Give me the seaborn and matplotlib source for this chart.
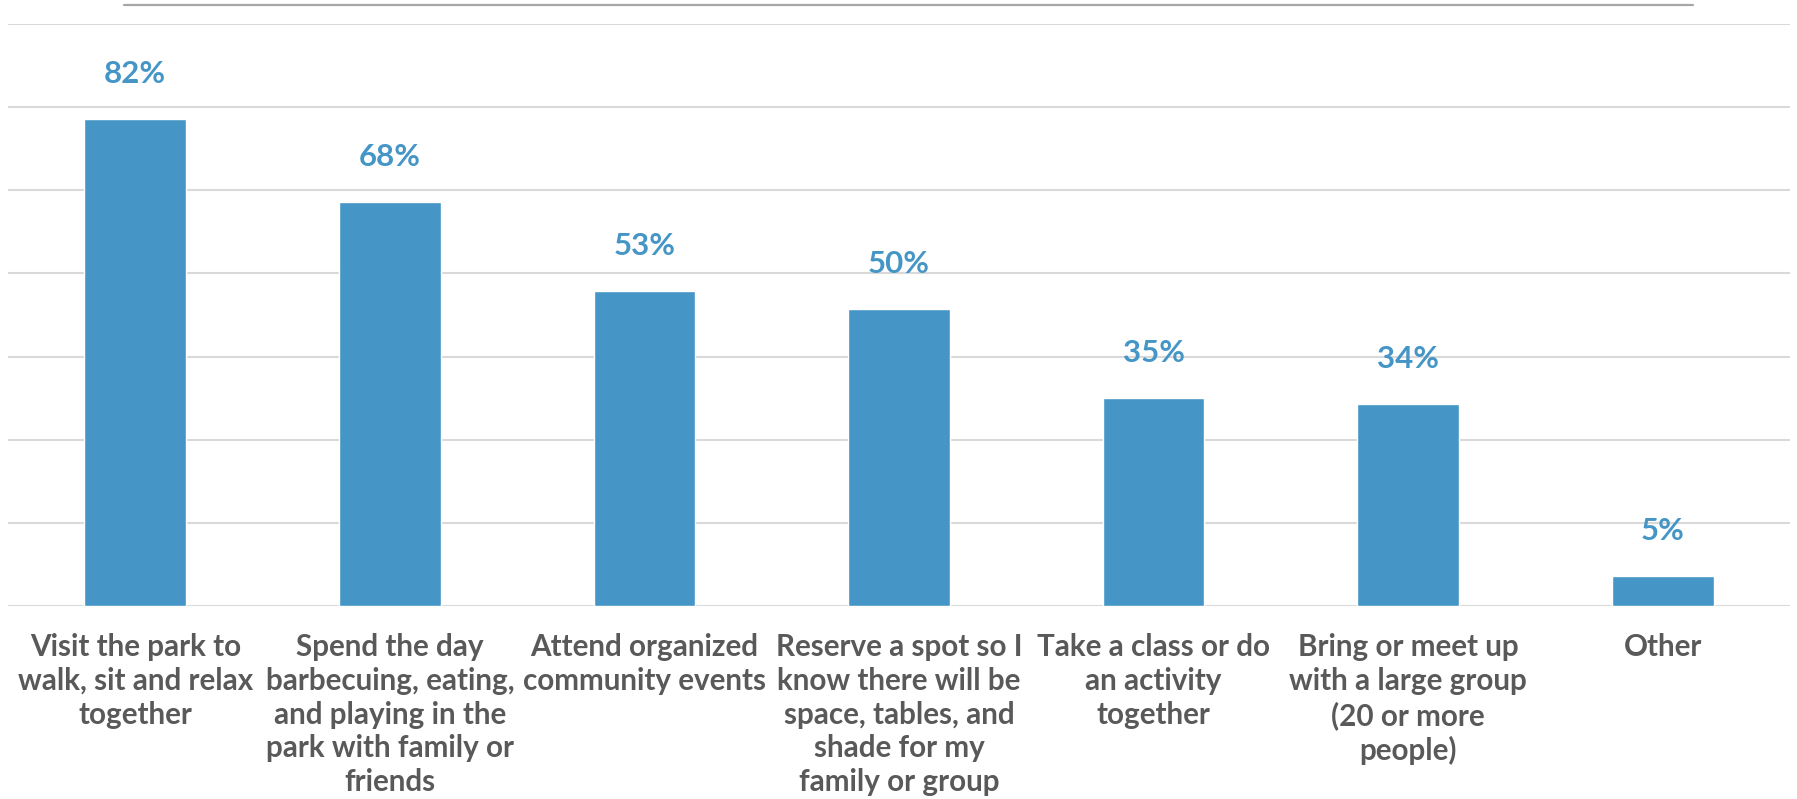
import matplotlib
matplotlib.use("Agg")
import matplotlib.pyplot as plt
import seaborn as sns
import pandas as pd
from matplotlib.lines import Line2D

categories = [
    "Visit the park to\nwalk, sit and relax\ntogether",
    "Spend the day\nbarbecuing, eating,\nand playing in the\npark with family or\nfriends",
    "Attend organized\ncommunity events",
    "Reserve a spot so I\nknow there will be\nspace, tables, and\nshade for my\nfamily or group",
    "Take a class or do\nan activity\ntogether",
    "Bring or meet up\nwith a large group\n(20 or more\npeople)",
    "Other",
]
percent = [82, 68, 53, 50, 35, 34, 5]

df = pd.DataFrame({"activity": categories, "percent": percent})

sns.set_theme(style="white")
plt.rcParams["font.family"] = ["Lato", "DejaVu Sans"]

BAR = "#4596c6"
TEXT = "#595959"

fig = plt.figure(figsize=(17.97, 7.99), dpi=100)
ax = fig.add_axes([8 / 1797, 1 - 606 / 799, 1782 / 1797, 582 / 799])

sns.barplot(data=df, x="activity", y="percent", color=BAR, width=0.4,
            saturation=1, ax=ax, zorder=3)

ax.set_ylim(0, 98)
ax.set_xlim(-0.5, len(categories) - 0.5)
ax.set_yticks(range(0, 99, 14))
ax.yaxis.grid(True, color="#d9d9d9", linewidth=1.5, zorder=0)
ax.set_axisbelow(True)
ax.tick_params(axis="y", left=False, labelleft=False)
ax.tick_params(axis="x", bottom=False, pad=13.5)
for s in ax.spines.values():
    s.set_visible(False)
ax.set_xlabel("")
ax.set_ylabel("")

for lbl in ax.get_xticklabels():
    lbl.set_fontsize(21.3)
    lbl.set_fontweight("bold")
    lbl.set_color(TEXT)
    lbl.set_linespacing(1.25)
    lbl.set_verticalalignment("top")

for i, v in enumerate(percent):
    ax.annotate(f"{v}%", (i, v), xytext=(0, 22.5), textcoords="offset points",
                ha="center", va="bottom", fontsize=22.5, fontweight="bold",
                color=BAR)

# thin dark rule across the top of the chart
fig.add_artist(Line2D([124 / 1797, 1693 / 1797], [1 - 5 / 799, 1 - 5 / 799],
                      color="#a6a6a6", linewidth=1.6))

fig.savefig("out.png", dpi=100)
